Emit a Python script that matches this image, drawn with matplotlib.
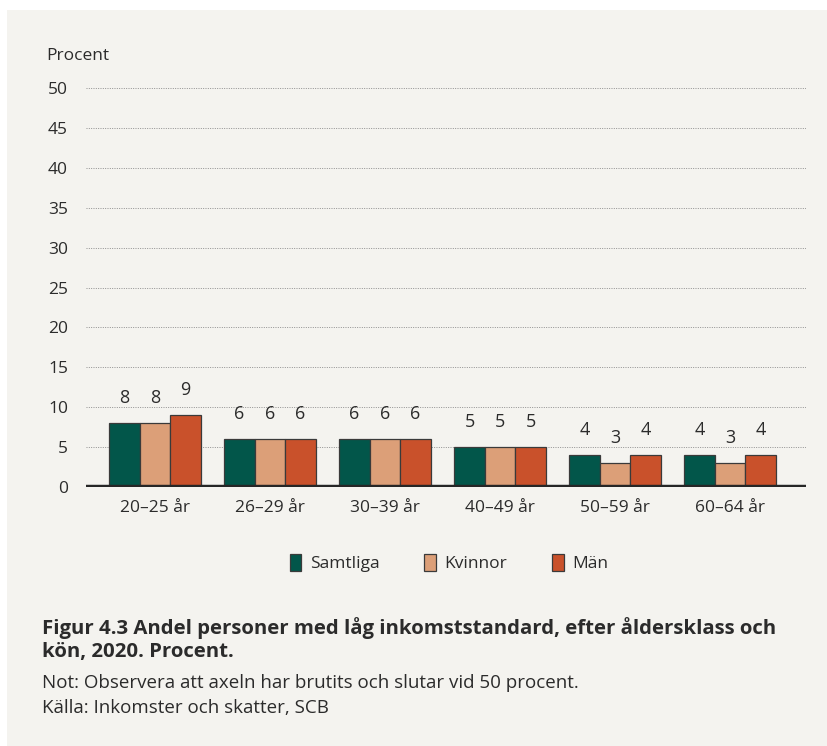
import matplotlib
matplotlib.use("Agg")
import matplotlib.pyplot as plt
from matplotlib.patches import Rectangle, Patch
import numpy as np

plt.rcParams['font.family'] = ['Open Sans', 'Noto Sans', 'DejaVu Sans']

categories = ["20–25 år", "26–29 år", "30–39 år", "40–49 år", "50–59 år", "60–64 år"]
series_names = ["Samtliga", "Kvinnor", "Män"]
samtliga = [8, 6, 6, 5, 4, 4]
kvinnor = [8, 6, 6, 5, 3, 3]
man = [9, 6, 6, 5, 4, 4]
yticks = [0, 5, 10, 15, 20, 25, 30, 35, 40, 45, 50]

colors = ["#02564a", "#dc9f78", "#c9512b"]
text_color = "#2b2b2b"
bg = "#f4f3ef"

W, H = 828, 746
fig = plt.figure(figsize=(W / 100, H / 100), dpi=100, facecolor="white")
fig.patches.append(Rectangle((7 / W, 0), 1, (H - 10) / H, transform=fig.transFigure,
                             facecolor=bg, edgecolor="none", zorder=-10))

ax = fig.add_axes([86 / W, (H - 487) / H, 720 / W, (487 - 88) / H])
ax.set_facecolor("none")

x = np.arange(len(categories))
bw = 0.265
for i, (vals, c) in enumerate(zip([samtliga, kvinnor, man], colors)):
    bars = ax.bar(x + (i - 1) * bw, vals, width=bw, color=c, edgecolor="#3a3a3a",
                  linewidth=0.9, zorder=3)
    for b, v in zip(bars, vals):
        ax.annotate(f"{v}", (b.get_x() + b.get_width() / 2, v), xytext=(0, 18),
                    textcoords="offset points", ha="center", va="center",
                    fontsize=13, color=text_color)

ax.set_xlim(-0.6, 5.661)
ax.set_ylim(0, 50)
ax.set_yticks(yticks)
ax.set_yticklabels([str(t) for t in yticks], fontsize=12.5, color=text_color)
ax.tick_params(axis="y", length=0, pad=13)
ax.set_xticks(x)
ax.set_xticklabels(categories, fontsize=12.5, color=text_color)
ax.tick_params(axis="x", length=0, pad=9)
for t in yticks[1:]:
    ax.axhline(t, color="#8f8f8f", linewidth=0.7, linestyle=(0, (1, 1.4)), zorder=1)
ax.axhline(0, color="#262626", linewidth=3.2, zorder=4, solid_capstyle="butt")
for s in ax.spines.values():
    s.set_visible(False)

ax.text(46 / W, (H - 56) / H, "Procent", transform=fig.transFigure, fontsize=12.5,
        color=text_color, va="center", ha="left")

handles = [Patch(facecolor=c, edgecolor="#3a3a3a", linewidth=0.9) for c in colors]
fig.legend(handles, series_names, loc="center", bbox_to_anchor=(449 / W, (H - 563) / H),
           ncol=3, frameon=False, fontsize=12.5, handlelength=0.65, handleheight=1.2,
           handletextpad=0.5, columnspacing=2.6, labelcolor=text_color)

fig.text(42 / W, (H - 628) / H, "Figur 4.3 Andel personer med låg inkomststandard, efter åldersklass och",
         fontsize=14.7, fontweight="bold", color=text_color, va="center", ha="left")
fig.text(42 / W, (H - 652) / H, "kön, 2020. Procent.",
         fontsize=14.7, fontweight="bold", color=text_color, va="center", ha="left")
fig.text(42 / W, (H - 683) / H, "Not: Observera att axeln har brutits och slutar vid 50 procent.",
         fontsize=13.5, color=text_color, va="center", ha="left")
fig.text(42 / W, (H - 708) / H, "Källa: Inkomster och skatter, SCB",
         fontsize=13.5, color=text_color, va="center", ha="left")

fig.savefig("out.png", dpi=100, facecolor=fig.get_facecolor())
